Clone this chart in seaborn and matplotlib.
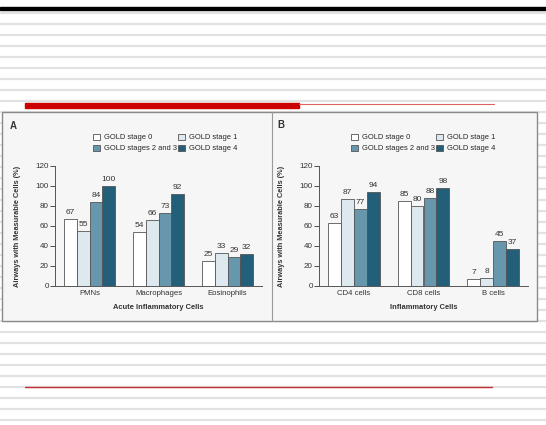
import pandas as pd
import matplotlib.pyplot as plt
import seaborn as sns
from matplotlib.lines import Line2D
from matplotlib.patches import Rectangle

# --- Data ---
STAGES = ["GOLD stage 0", "GOLD stage 1", "GOLD stages 2 and 3", "GOLD stage 4"]
ACUTE_CELLS = ["PMNs", "Macrophages", "Eosinophils"]
ACUTE_VALUES = {
    "GOLD stage 0": [67, 54, 25],
    "GOLD stage 1": [55, 66, 33],
    "GOLD stages 2 and 3": [84, 73, 29],
    "GOLD stage 4": [100, 92, 32],
}
LYMPH_CELLS = ["CD4 cells", "CD8 cells", "B cells"]
LYMPH_VALUES = {
    "GOLD stage 0": [63, 85, 7],
    "GOLD stage 1": [87, 80, 8],
    "GOLD stages 2 and 3": [77, 88, 45],
    "GOLD stage 4": [94, 98, 37],
}
Y_TICKS = [0, 20, 40, 60, 80, 100, 120]

PALETTE = ["#ffffff", "#dde8ef", "#6797ac", "#235f79"]
W, H = 546, 425


def to_long(cells, values):
    rows = []
    for stage in STAGES:
        for cell, v in zip(cells, values[stage]):
            rows.append({"cell": cell, "stage": stage, "value": v})
    return pd.DataFrame(rows)


def fx(px):
    return px / W


def fy(py):
    return 1 - py / H


def draw_panel(ax, df, cells, xlabel, letter, letter_xy, legend_center):
    sns.barplot(data=df, x="cell", y="value", hue="stage", order=cells,
                hue_order=STAGES, palette=PALETTE, width=0.74, gap=0,
                edgecolor="#555555", linewidth=0.6, saturation=1, ax=ax)
    for cont in ax.containers:
        ax.bar_label(cont, padding=2, fontsize=6, color="#333333")
    ax.set_ylim(0, 120)
    ax.set_xlim(-0.5, 2.5)
    ax.set_yticks(Y_TICKS)
    ax.tick_params(axis="y", length=3.5, width=0.6, labelsize=5.8, pad=1,
                   colors="#333333", left=True)
    ax.tick_params(axis="x", length=0, labelsize=5.6, pad=3, colors="#333333")
    for s in ["top", "right"]:
        ax.spines[s].set_visible(False)
    for s in ["left", "bottom"]:
        ax.spines[s].set_color("#555555")
        ax.spines[s].set_linewidth(0.7)
    ax.set_facecolor("none")
    ax.set_xlabel(xlabel, fontsize=5.4, fontweight="bold", labelpad=5,
                  color="#333333")
    ax.set_ylabel("Airways with Measurable Cells (%)", fontsize=5.3,
                  fontweight="bold", labelpad=10, color="#333333")
    handles, labels = ax.get_legend_handles_labels()
    ax.legend_.remove()
    order = [0, 2, 1, 3]
    leg = fig.legend([handles[i] for i in order], [labels[i] for i in order],
                     ncol=2, loc="center", bbox_to_anchor=legend_center,
                     fontsize=5.4, frameon=False, handlelength=0.9,
                     handleheight=0.9, handletextpad=0.5, columnspacing=0.2,
                     labelspacing=0.45, borderaxespad=0)
    leg.set_zorder(6)
    fig.text(letter_xy[0], letter_xy[1], letter, fontsize=7,
             fontweight="bold", color="#333333", va="center", zorder=6)


sns.set_theme(style="white")
plt.rcParams["font.family"] = ["Liberation Sans", "DejaVu Sans"]

fig = plt.figure(figsize=(W / 100, H / 100), dpi=100)
fig.patch.set_facecolor("white")

# slide background stripes
y = 13
while y < H:
    fig.add_artist(Line2D([0, 1], [fy(y), fy(y)], color="#e2e2e2",
                          linewidth=1.6, zorder=0.5))
    y += 11

# top black bar and red rules
fig.add_artist(Rectangle((0, fy(10)), 1, fy(7) - fy(10), color="black",
                         zorder=1, transform=fig.transFigure))
fig.add_artist(Rectangle((fx(25), fy(108)), fx(299) - fx(25), fy(103) - fy(108),
                         color="#cc0000", zorder=2, transform=fig.transFigure))
fig.add_artist(Line2D([fx(299), fx(494)], [fy(103.5), fy(103.5)],
                      color="#e06060", linewidth=0.8, zorder=2))
fig.add_artist(Line2D([fx(25), fx(492)], [fy(387), fy(387)],
                      color="#c03030", linewidth=1.0, zorder=2))

# figure panel box
fig.add_artist(Rectangle((fx(2), fy(321)), fx(537) - fx(2), fy(112) - fy(321),
                         facecolor="#f6f6f6", edgecolor="#8a8a8a",
                         linewidth=1.0, zorder=3, transform=fig.transFigure))
fig.add_artist(Line2D([fx(272), fx(272)], [fy(112), fy(321)],
                      color="#9a9a9a", linewidth=0.8, zorder=4))

axA = fig.add_axes([fx(55), fy(286), fx(262) - fx(55), fy(166) - fy(286)])
axB = fig.add_axes([fx(319), fy(286), fx(528) - fx(319), fy(166) - fy(286)])
axA.set_zorder(5)
axB.set_zorder(5)

draw_panel(axA, to_long(ACUTE_CELLS, ACUTE_VALUES), ACUTE_CELLS,
           "Acute Inflammatory Cells", "A", (fx(10), fy(126)),
           (fx(165), fy(143)))
draw_panel(axB, to_long(LYMPH_CELLS, LYMPH_VALUES), LYMPH_CELLS,
           "Inflammatory Cells", "B", (fx(277), fy(125)), (fx(423), fy(143)))

fig.savefig("out.png", dpi=100)
